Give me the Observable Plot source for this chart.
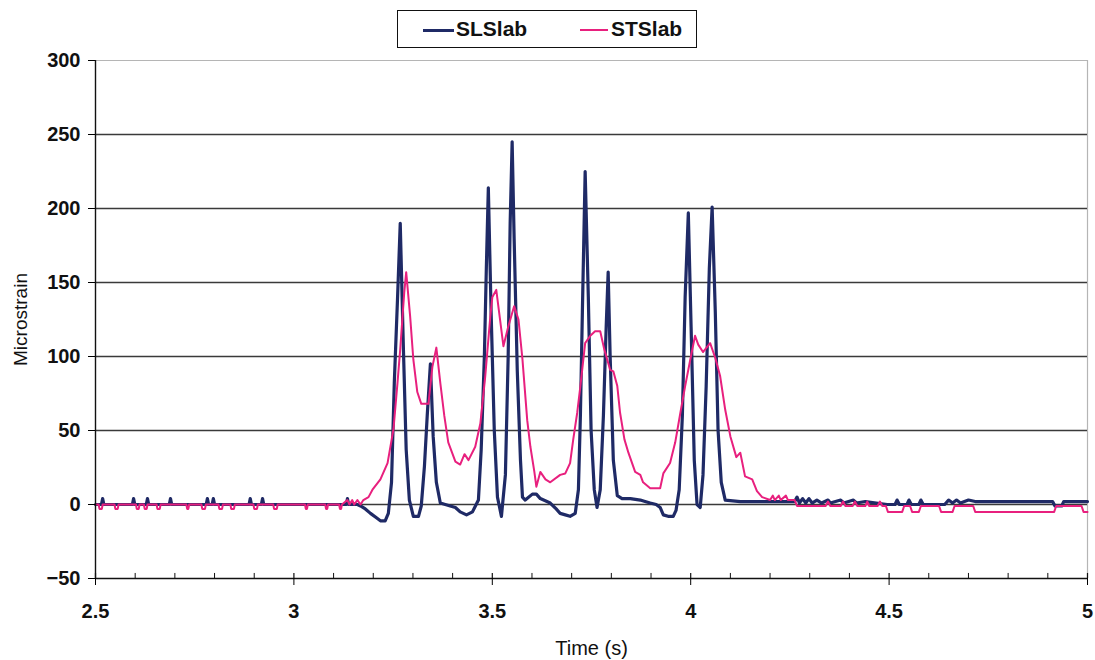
<!DOCTYPE html>
<html>
<head>
<meta charset="utf-8">
<script src="https://cdn.jsdelivr.net/npm/d3@7"></script>
<script src="https://cdn.jsdelivr.net/npm/@observablehq/plot@0.6"></script>
<style>
  html, body { margin: 0; padding: 0; background: #fff; }
  #wrap { position: relative; width: 1095px; height: 660px; font-family: "Liberation Sans", Arial, sans-serif; }
  #legend { position: absolute; left: 397px; top: 10px; width: 298px; height: 36px; border: 1.5px solid #111; background: #fff; }
  #legend .sw { position: absolute; top: 18px; height: 3px; }
  #legend .lt { position: absolute; top: 6px; font-size: 21px; font-weight: bold; color: #111; line-height: 24px; }
  svg text { font-family: "Liberation Sans", Arial, sans-serif; fill: #111; }
  g[aria-label="y-axis tick label"] text, g[aria-label="x-axis tick label"] text { font-weight: bold; }
</style>
</head>
<body>
<div id="wrap">
  <div id="chart"></div>
  <div id="legend">
    <div class="sw" style="left:25px;width:31px;background:#1f2a66;"></div>
    <div class="lt" style="left:58px;">SLSlab</div>
    <div class="sw" style="left:182px;width:28px;height:2px;background:#e8207e;"></div>
    <div class="lt" style="left:213px;">STSlab</div>
  </div>
</div>
<script>
// ---- data ----
const seriesNames = ["SLSlab", "STSlab"];
const seriesColors = ["#1f2a66", "#e8207e"];
const xLabel = "Time (s)";
const yLabel = "Microstrain";

const timeSL = [
  2.500, 2.515, 2.518, 2.521, 2.593, 2.596, 2.599, 2.628, 2.631, 2.634,
  2.686, 2.689, 2.692, 2.779, 2.782, 2.785, 2.794, 2.797, 2.800, 2.887,
  2.890, 2.893, 2.918, 2.921, 2.924, 3.132, 3.135, 3.138, 3.160, 3.168,
  3.180, 3.193, 3.208, 3.218, 3.230, 3.238, 3.246, 3.253, 3.261, 3.268,
  3.276, 3.283, 3.291, 3.301, 3.314, 3.321, 3.329, 3.336, 3.344, 3.351,
  3.359, 3.369, 3.394, 3.407, 3.419, 3.435, 3.450, 3.465, 3.472, 3.480,
  3.485, 3.490, 3.497, 3.505, 3.513, 3.523, 3.533, 3.540, 3.545, 3.550,
  3.555, 3.563, 3.571, 3.576, 3.583, 3.601, 3.611, 3.621, 3.646, 3.661,
  3.671, 3.684, 3.696, 3.709, 3.717, 3.722, 3.727, 3.734, 3.742, 3.749,
  3.757, 3.764, 3.772, 3.780, 3.787, 3.792, 3.797, 3.805, 3.815, 3.827,
  3.848, 3.873, 3.885, 3.898, 3.913, 3.923, 3.931, 3.943, 3.956, 3.963,
  3.971, 3.979, 3.986, 3.994, 4.001, 4.009, 4.016, 4.024, 4.031, 4.039,
  4.047, 4.054, 4.062, 4.069, 4.077, 4.087, 4.125, 4.262, 4.268, 4.274,
  4.282, 4.290, 4.298, 4.306, 4.318, 4.330, 4.346, 4.352, 4.378, 4.386,
  4.410, 4.418, 4.440, 4.495, 4.515, 4.520, 4.526, 4.545, 4.550, 4.556,
  4.575, 4.580, 4.586, 4.640, 4.650, 4.660, 4.670, 4.680, 4.700, 4.717,
  4.912, 4.918, 4.935, 4.940, 5.000
];
const strainSL = [
  0, 0, 4, 0, 0, 4, 0, 0, 4, 0,
  0, 4, 0, 0, 4, 0, 0, 4, 0, 0,
  4, 0, 0, 4, 0, 0, 4, 0, 0, -1,
  -3, -6, -9, -11, -11, -6, 15, 82, 138, 190,
  105, 37, 3, -8, -8, -1, 26, 60, 95, 46,
  15, 1, -1, -2, -5, -7, -5, 3, 37, 100,
  160, 214, 130, 50, 5, -8, 20, 100, 190, 245,
  180, 90, 30, 5, 3, 7, 7, 4, 1, -3,
  -6, -7, -8, -6, 10, 60, 130, 225, 140, 50,
  10, -2, 10, 60, 120, 157, 100, 30, 6, 4,
  4, 3, 2, 1, 0, -2, -7, -8, -8, -4,
  10, 60, 140, 197, 120, 30, 0, -2, 20, 80,
  160, 201, 130, 50, 15, 3, 2, 2, 5, 1,
  4, 1, 4, 1, 3, 1, 3, 1, 3, 1,
  3, 1, 2, 0, 0, 3, 0, 0, 3, 0,
  0, 3, 0, 0, 3, 1, 3, 1, 3, 2,
  2, -1, -1, 2, 2
];

const timeST = [
  2.500, 2.508, 2.510, 2.516, 2.518, 2.548, 2.550, 2.556, 2.558, 2.602,
  2.604, 2.609, 2.611, 2.622, 2.624, 2.629, 2.631, 2.654, 2.656, 2.662,
  2.664, 2.729, 2.731, 2.734, 2.736, 2.767, 2.769, 2.776, 2.778, 2.810,
  2.812, 2.819, 2.821, 2.840, 2.842, 2.849, 2.851, 2.898, 2.900, 2.907,
  2.909, 2.948, 2.950, 2.957, 2.959, 3.028, 3.030, 3.033, 3.035, 3.079,
  3.081, 3.084, 3.086, 3.114, 3.116, 3.119, 3.121, 3.135, 3.140, 3.147,
  3.152, 3.160, 3.168, 3.175, 3.188, 3.198, 3.218, 3.236, 3.251, 3.261,
  3.268, 3.278, 3.283, 3.293, 3.301, 3.311, 3.321, 3.339, 3.349, 3.359,
  3.369, 3.379, 3.389, 3.407, 3.419, 3.430, 3.440, 3.457, 3.470, 3.482,
  3.495, 3.500, 3.510, 3.528, 3.540, 3.555, 3.566, 3.576, 3.588, 3.596,
  3.606, 3.611, 3.621, 3.634, 3.646, 3.671, 3.684, 3.696, 3.704, 3.714,
  3.722, 3.734, 3.747, 3.759, 3.772, 3.782, 3.797, 3.805, 3.815, 3.822,
  3.833, 3.843, 3.860, 3.873, 3.880, 3.898, 3.923, 3.931, 3.948, 3.961,
  3.974, 3.986, 3.999, 4.011, 4.019, 4.031, 4.049, 4.062, 4.074, 4.087,
  4.100, 4.115, 4.125, 4.137, 4.155, 4.167, 4.180, 4.200, 4.207, 4.212,
  4.222, 4.227, 4.240, 4.245, 4.262, 4.268, 4.340, 4.346, 4.352, 4.378,
  4.384, 4.390, 4.408, 4.414, 4.420, 4.440, 4.445, 4.450, 4.471, 4.477,
  4.483, 4.492, 4.497, 4.533, 4.538, 4.553, 4.558, 4.575, 4.580, 4.626,
  4.631, 4.660, 4.665, 4.712, 4.717, 4.916, 4.921, 4.985, 4.990, 5.000
];
const strainST = [
  0, 0, -3, -3, 0, 0, -3, -3, 0, 0,
  -3, -3, 0, 0, -3, -3, 0, 0, -3, -3,
  0, 0, -3, -3, 0, 0, -3, -3, 0, 0,
  -3, -3, 0, 0, -3, -3, 0, 0, -3, -3,
  0, 0, -3, -3, 0, 0, -3, -3, 0, 0,
  -3, -3, 0, 0, -3, -3, 0, 3, 0, 3,
  0, 3, 0, 3, 5, 10, 17, 28, 51, 82,
  105, 143, 157, 127, 98, 76, 68, 68, 93, 106,
  82, 60, 42, 29, 27, 34, 30, 39, 55, 86,
  127, 140, 145, 107, 120, 134, 125, 98, 57, 39,
  22, 12, 22, 17, 15, 20, 21, 28, 44, 62,
  80, 109, 114, 117, 117, 105, 91, 90, 80, 62,
  44, 35, 22, 20, 15, 11, 11, 21, 28, 42,
  62, 80, 98, 114, 108, 103, 109, 99, 87, 64,
  46, 32, 35, 19, 17, 9, 5, 3, 6, 3,
  6, 3, 6, 3, 3, -1, -1, 2, -1, -1,
  2, -1, -1, 2, -1, -1, 2, -1, -1, 2,
  -1, -1, -5, -5, -1, -1, -5, -5, -1, -1,
  -5, -5, -1, -1, -5, -5, -1, -1, -5, -5
];

const xTicks = [2.5, 3, 3.5, 4, 4.5, 5];
const xMinorTicks = [2.6, 2.7, 2.8, 2.9, 3.1, 3.2, 3.3, 3.4, 3.6, 3.7, 3.8, 3.9, 4.1, 4.2, 4.3, 4.4, 4.6, 4.7, 4.8, 4.9];
const yTicks = [-50, 0, 50, 100, 150, 200, 250, 300];
const yGrid = [0, 50, 100, 150, 200, 250];

// ---- build tables ----
const rows = [];
timeSL.forEach((t, i) => rows.push({series: seriesNames[0], time: t, strain: strainSL[i]}));
timeST.forEach((t, i) => rows.push({series: seriesNames[1], time: t, strain: strainST[i]}));
const slRows = rows.filter(d => d.series === seriesNames[0]);
const stRows = rows.filter(d => d.series === seriesNames[1]);

const chart = Plot.plot({
  width: 1095,
  height: 660,
  marginLeft: 95,
  marginRight: 8,
  marginTop: 60,
  marginBottom: 82,
  x: {domain: [2.5, 5]},
  y: {domain: [-50, 300]},
  marks: [
    Plot.ruleY([300], {stroke: "#b5b5b5", strokeWidth: 1.2}),
    Plot.ruleX([5], {stroke: "#b5b5b5", strokeWidth: 1.2}),
    Plot.ruleY(yGrid, {stroke: "#3a3a3a", strokeWidth: 1.4}),
    Plot.line(slRows, {x: "time", y: "strain", stroke: seriesColors[0], strokeWidth: 3.2, curve: "linear"}),
    Plot.line(stRows, {x: "time", y: "strain", stroke: seriesColors[1], strokeWidth: 2, curve: "linear"}),
    Plot.ruleY([-50], {stroke: "#111", strokeWidth: 1.4}),
    Plot.ruleX([2.5], {stroke: "#111", strokeWidth: 1.4}),
    Plot.ruleX(xMinorTicks, {y1: -50, y2: -46.6, stroke: "#111", strokeWidth: 1}),
    Plot.ruleX(xTicks, {y1: -50, y2: -46.6, stroke: "#111", strokeWidth: 1.2}),
    Plot.axisY({ticks: yTicks, tickSize: 7, tickPadding: 8, fontSize: 20, label: null}),
    Plot.axisX({ticks: xTicks, tickSize: 7, tickPadding: 18, fontSize: 20, tickFormat: d => String(d), label: null}),
    Plot.text([xLabel], {frameAnchor: "bottom", dy: 76, lineAnchor: "bottom", fontSize: 20, fill: "#111"}),
    Plot.text([yLabel], {frameAnchor: "left", dx: -75, rotate: -90, textAnchor: "middle", lineAnchor: "middle", fontSize: 19, fill: "#111"})
  ]
});
document.getElementById("chart").appendChild(chart);
</script>
</body>
</html>
